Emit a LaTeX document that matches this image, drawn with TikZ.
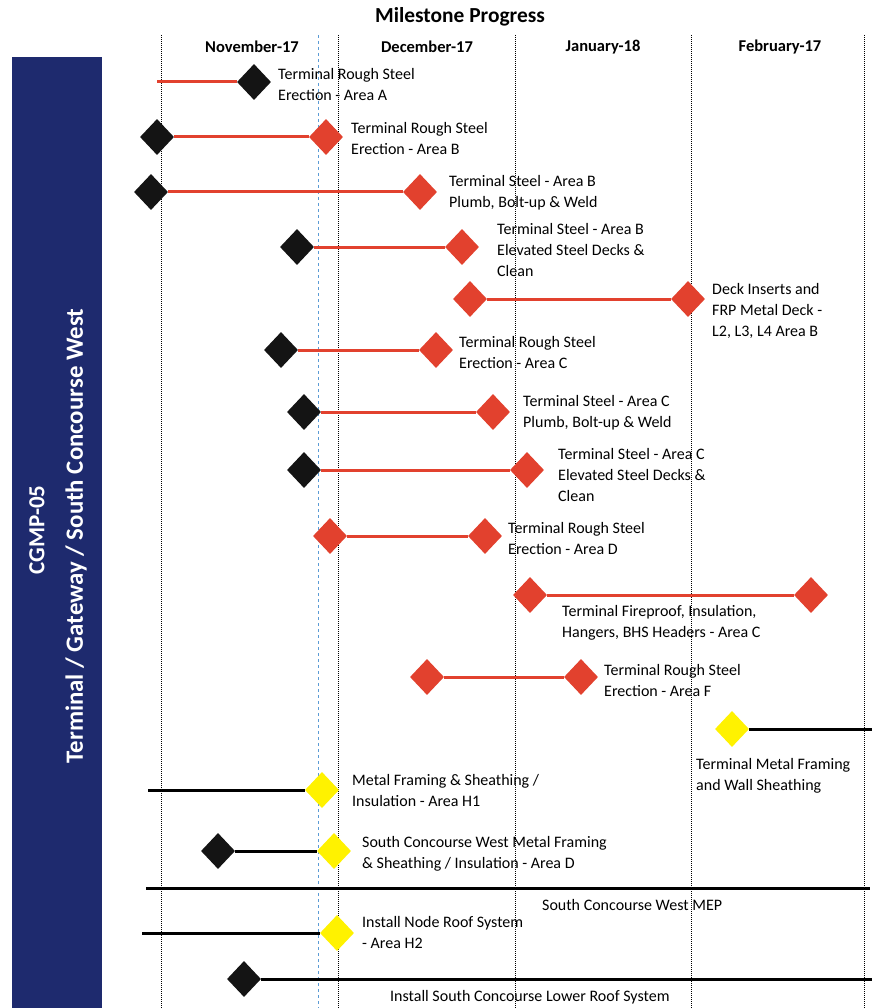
\documentclass[tikz,border=0pt]{standalone}
\usepackage{fontspec}
\setmainfont{Carlito}
\usetikzlibrary{shapes.geometric}
\definecolor{navy}{HTML}{1E2A6E}
\definecolor{msred}{HTML}{E2412E}
\definecolor{msyellow}{HTML}{FFF200}
\definecolor{gridblue}{HTML}{5B9BD5}
\begin{document}
\begin{tikzpicture}[x=1pt,y=-1pt,
 ms/.style={diamond,minimum width=34pt,minimum height=36pt,inner sep=0pt},
 blk/.style={ms,fill=black!92},
 rd/.style={ms,fill=msred},
 yl/.style={ms,fill=msyellow},
 redbar/.style={msred,line width=3pt},
 blkbar/.style={black,line width=3pt},
 lbl/.style={font=\fontsize{16}{21}\selectfont,align=left,anchor=west,inner sep=0pt},
 month/.style={font=\bfseries\fontsize{16.5}{18}\selectfont,inner sep=0pt},
 grid/.style={black,densely dotted,line width=1pt},
 bluegrid/.style={gridblue,dashed,line width=0.7pt},
 sidetext/.style={rotate=90,text=white,inner sep=0pt}
]
\useasboundingbox (0,0) rectangle (894,1008);
\fill[white] (0,0) rectangle (894,1008);
% side bar
\fill[navy] (12,57) rectangle (102,1008);
\node[sidetext,font=\bfseries\fontsize{23}{26}\selectfont] (cgmp) at (37,530) {CGMP-05};
\node[sidetext,font=\bfseries\fontsize{24.8}{28}\selectfont] (side) at (76,536) {Terminal / Gateway / South Concourse West};
% title and months
\node[font=\bfseries\fontsize{21.4}{24}\selectfont] (title) at (460,17) {Milestone Progress};
\node[month] (nov) at (252,47) {November-17};
\node[month] (dec) at (427,47) {December-17};
\node[month] (jan) at (603,47) {January-18};
\node[month] (feb) at (780,47) {February-17};
% grid
\foreach \gx in {161,338,515,691,864} \draw[grid] (\gx,35) -- (\gx,1008);
\draw[bluegrid] (318,35) -- (318,1008);
% row 1
\coordinate (s1) at (157,82);
\node[blk] (e1) at (254,82) {};
\draw[redbar] (s1) -- (e1);
\node[lbl] (l1) at (278,84.5) {Terminal Rough Steel\\Erection - Area A};
% row 2
\node[blk] (s2) at (157,137) {};
\node[rd] (e2) at (326,137) {};
\draw[redbar] (s2) -- (e2);
\node[lbl] (l2) at (351,138.5) {Terminal Rough Steel\\Erection - Area B};
% row 3
\node[blk] (s3) at (151,192) {};
\node[rd] (e3) at (420,192) {};
\draw[redbar] (s3) -- (e3);
\node[lbl] (l3) at (449,193) {Terminal Steel - Area B\\Plumb, Bolt-up \& Weld};
% row 4
\node[blk] (s4) at (297,247) {};
\node[rd] (e4) at (462,247) {};
\draw[redbar] (s4) -- (e4);
\node[lbl] (l4) at (497,250) {Terminal Steel - Area B\\Elevated Steel Decks \&\\Clean};
% row 5
\node[rd] (s5) at (470,299) {};
\node[rd] (e5) at (688,299) {};
\draw[redbar] (s5) -- (e5);
\node[lbl] (l5) at (712,311) {Deck Inserts and\\FRP Metal Deck -\\L2, L3, L4 Area B};
% row 6
\node[blk] (s6) at (281,350) {};
\node[rd] (e6) at (436,350) {};
\draw[redbar] (s6) -- (e6);
\node[lbl] (l6) at (459,353) {Terminal Rough Steel\\Erection - Area C};
% row 7
\node[blk] (s7) at (304,412) {};
\node[rd] (e7) at (493,412) {};
\draw[redbar] (s7) -- (e7);
\node[lbl] (l7) at (523,413) {Terminal Steel - Area C\\Plumb, Bolt-up \& Weld};
% row 8
\node[blk] (s8) at (304,470) {};
\node[rd] (e8) at (527,470) {};
\draw[redbar] (s8) -- (e8);
\node[lbl] (l8) at (558,475) {Terminal Steel - Area C\\Elevated Steel Decks \&\\Clean};
% row 9
\node[rd] (s9) at (330,536) {};
\node[rd] (e9) at (485,536) {};
\draw[redbar] (s9) -- (e9);
\node[lbl] (l9) at (508,538.5) {Terminal Rough Steel\\Erection - Area D};
% row 10
\node[rd] (s10) at (530,595) {};
\node[rd] (e10) at (811,595) {};
\draw[redbar] (s10) -- (e10);
\node[lbl] (l10) at (562,623) {Terminal Fireproof, Insulation,\\Hangers, BHS Headers - Area C};
% row 11
\node[rd] (s11) at (427,677) {};
\node[rd] (e11) at (581,677) {};
\draw[redbar] (s11) -- (e11);
\node[lbl] (l11) at (604,680.5) {Terminal Rough Steel\\Erection - Area F};
% row 12
\node[yl] (s12) at (732,729) {};
\coordinate (e12) at (872,729);
\draw[blkbar] (s12) -- (e12);
\node[lbl] (l12) at (696,775.5) {Terminal Metal Framing\\and Wall Sheathing};
% row 13
\coordinate (s13) at (148,790);
\node[yl] (e13) at (322,790) {};
\draw[blkbar] (s13) -- (e13);
\node[lbl] (l13) at (352,790.5) {Metal Framing \& Sheathing /\\Insulation - Area H1};
% row 14
\node[blk] (s14) at (218,851) {};
\node[yl] (e14) at (334,851) {};
\draw[blkbar] (s14) -- (e14);
\node[lbl] (l14) at (362,853.5) {South Concourse West Metal Framing\\\& Sheathing / Insulation - Area D};
% row 15
\coordinate (s15) at (146,888);
\coordinate (e15) at (870,888);
\draw[blkbar] (s15) -- (e15);
\node[lbl] (l15) at (542,905) {South Concourse West MEP};
% row 16
\coordinate (s16) at (142,933);
\node[yl] (e16) at (337,933) {};
\draw[blkbar] (s16) -- (e16);
\node[lbl] (l16) at (362,932) {Install Node Roof System\\- Area H2};
% row 17
\node[blk] (s17) at (244,979) {};
\coordinate (e17) at (872,979);
\draw[blkbar] (s17) -- (e17);
\node[lbl] (l17) at (390,997) {Install South Concourse Lower Roof System};
\end{tikzpicture}
\end{document}
